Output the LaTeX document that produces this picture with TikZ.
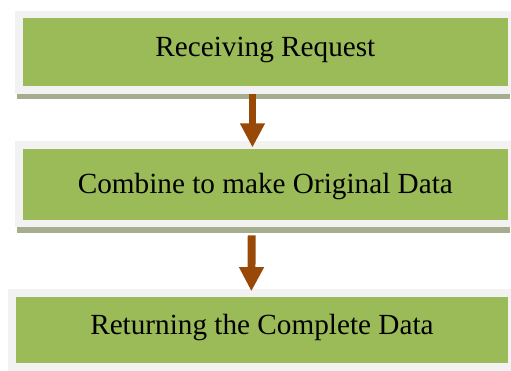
\documentclass[tikz,border=0pt]{standalone}
\usepackage{fontspec}
\setmainfont{Liberation Serif}
\usetikzlibrary{arrows.meta,shadows}
\definecolor{boxgreen}{HTML}{9BBB59}
\definecolor{framegray}{HTML}{F2F2F2}
\definecolor{shadowgray}{HTML}{A5AD8F}
\definecolor{arrowbrown}{HTML}{984807}
\begin{document}
\begin{tikzpicture}[
		stage/.style = {fill = boxgreen, draw = framegray, line width = 5.6pt, inner sep = 0pt, font = \fontsize{22}{26}\selectfont},
		stageshadow/.style = {drop shadow = {shadow xshift = -0.05cm, shadow yshift = -0.25cm, fill = shadowgray, opacity = 1}},
		flow/.style = {draw = arrowbrown, line width = 0.21cm, -{Triangle[width = 0.62cm, length = 0.64cm]}}
	]
				\useasboundingbox (0,0) rectangle (13.52,9.79);
				\node (receive) at (7.02,8.41) [stage, stageshadow, minimum width = 13.04cm, minimum height = 2cm, text height = 15pt, text depth = 9pt] {Receiving Request};
				\node (combine) at (7.02,4.91) [stage, stageshadow, minimum width = 13.04cm, minimum height = 2.08cm, text height = 19pt, text depth = 5pt] {Combine to make Original Data};
				\node (result) at (6.93,1.06) [stage, minimum width = 13.22cm, minimum height = 1.95cm, text height = 15pt, text depth = 8pt] {Returning the Complete Data};
				\draw [flow] ([xshift = -0.34cm]receive.south) -- ([xshift = -0.34cm, yshift = -0.16cm]combine.north);
				\draw [flow] ([xshift = -0.36cm, yshift = -0.21cm]combine.south) -- ([xshift = -0.28cm, yshift = -0.05cm]result.north);
		\end{tikzpicture}
\end{document}
